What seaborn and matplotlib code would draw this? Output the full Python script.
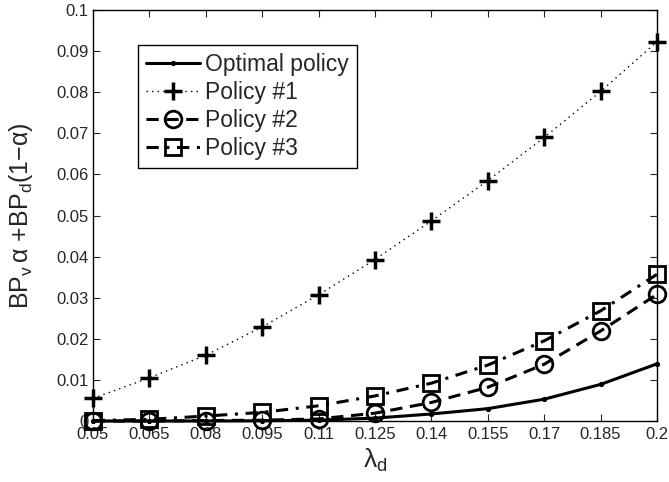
import matplotlib
matplotlib.use("Agg")
import matplotlib.pyplot as plt
import seaborn as sns
import pandas as pd

x_vals = [0.05, 0.065, 0.08, 0.095, 0.11, 0.125, 0.14, 0.155, 0.17, 0.185, 0.2]
x_labels = ["0.05", "0.065", "0.08", "0.095", "0.11", "0.125", "0.14", "0.155", "0.17", "0.185", "0.2"]
optimal = [0.0, 0.0, 0.0, 0.00005, 0.0002, 0.0007, 0.0017, 0.0030, 0.0053, 0.0089, 0.0139]
policy1 = [0.0055, 0.0105, 0.0160, 0.0229, 0.0307, 0.0393, 0.0487, 0.0585, 0.0690, 0.0802, 0.0923]
policy2 = [0.0, 0.0, 0.0001, 0.0002, 0.0005, 0.0019, 0.0045, 0.0082, 0.0138, 0.0219, 0.0308]
policy3 = [0.0001, 0.0004, 0.0012, 0.0021, 0.0037, 0.0061, 0.0092, 0.0136, 0.0195, 0.0268, 0.0357]
y_ticks = [0, 0.01, 0.02, 0.03, 0.04, 0.05, 0.06, 0.07, 0.08, 0.09, 0.1]
y_labels = ["0", "0.01", "0.02", "0.03", "0.04", "0.05", "0.06", "0.07", "0.08", "0.09", "0.1"]
names = ["Optimal policy", "Policy #1", "Policy #2", "Policy #3"]

sns.set_style("white")
plt.rcParams['font.family'] = ['Liberation Sans', 'DejaVu Sans']
plt.rcParams['mathtext.fontset'] = 'custom'
plt.rcParams['mathtext.rm'] = 'Liberation Sans'
plt.rcParams['mathtext.it'] = 'Liberation Sans'
plt.rcParams['mathtext.sf'] = 'Liberation Sans'
plt.rcParams['xtick.direction'] = 'in'
plt.rcParams['ytick.direction'] = 'in'

fig = plt.figure(figsize=(6.69, 4.82), dpi=100)
ax = fig.add_axes([0.139, 0.1266, 0.843, 0.8524])

styles = [
    dict(linestyle='-', linewidth=2.2, marker='.', markersize=6),
    dict(linestyle=(0, (1, 3)), linewidth=1.0, marker='+', markersize=13, markeredgewidth=2.5),
    dict(linestyle=(0, (4, 2.5)), linewidth=2.2, marker='o', markersize=12, markerfacecolor='none', markeredgewidth=2),
    dict(linestyle=(0, (4, 2.5, 1, 2.5)), linewidth=2.2, marker='s', markersize=11, markerfacecolor='none', markeredgewidth=2),
]
for name, ys, st in zip(names, [optimal, policy1, policy2, policy3], styles):
    df = pd.DataFrame({"x": x_vals, "y": ys})
    sns.lineplot(data=df, x="x", y="y", ax=ax, color='black', label=name,
                 markeredgecolor='black', clip_on=False, **st)

ax.set_xlim(0.05, 0.2)
ax.set_ylim(0, 0.1)
ax.set_xticks(x_vals)
ax.set_xticklabels(x_labels)
ax.set_yticks(y_ticks)
ax.set_yticklabels(y_labels)
ax.tick_params(axis='both', labelsize=12, length=5, width=0.8,
               top=True, right=True, bottom=True, left=True)
ax.tick_params(axis='x', pad=4)
ax.tick_params(axis='y', pad=3)
for s in ax.spines.values():
    s.set_visible(True)
    s.set_color('black')
    s.set_linewidth(1.0)

ax.set_xlabel(r'$\lambda_d$', fontsize=19)
ax.xaxis.set_label_coords(0.5, -0.062, transform=ax.transAxes)
ax.set_ylabel(r'BP$_v$$\,\alpha$ +BP$_d$(1$-\alpha$)', fontsize=18)
ax.yaxis.set_label_coords(-0.102, 0.5, transform=ax.transAxes)

leg = ax.legend(loc='upper left', bbox_to_anchor=(0.08, 0.915), fontsize=16.5,
                frameon=True, fancybox=False, edgecolor='black', framealpha=1,
                handlelength=2.35, handletextpad=0.22, borderpad=0.35, labelspacing=0.22,
                borderaxespad=0)
leg.get_frame().set_linewidth(1.0)

fig.savefig("out.png", dpi=100)
